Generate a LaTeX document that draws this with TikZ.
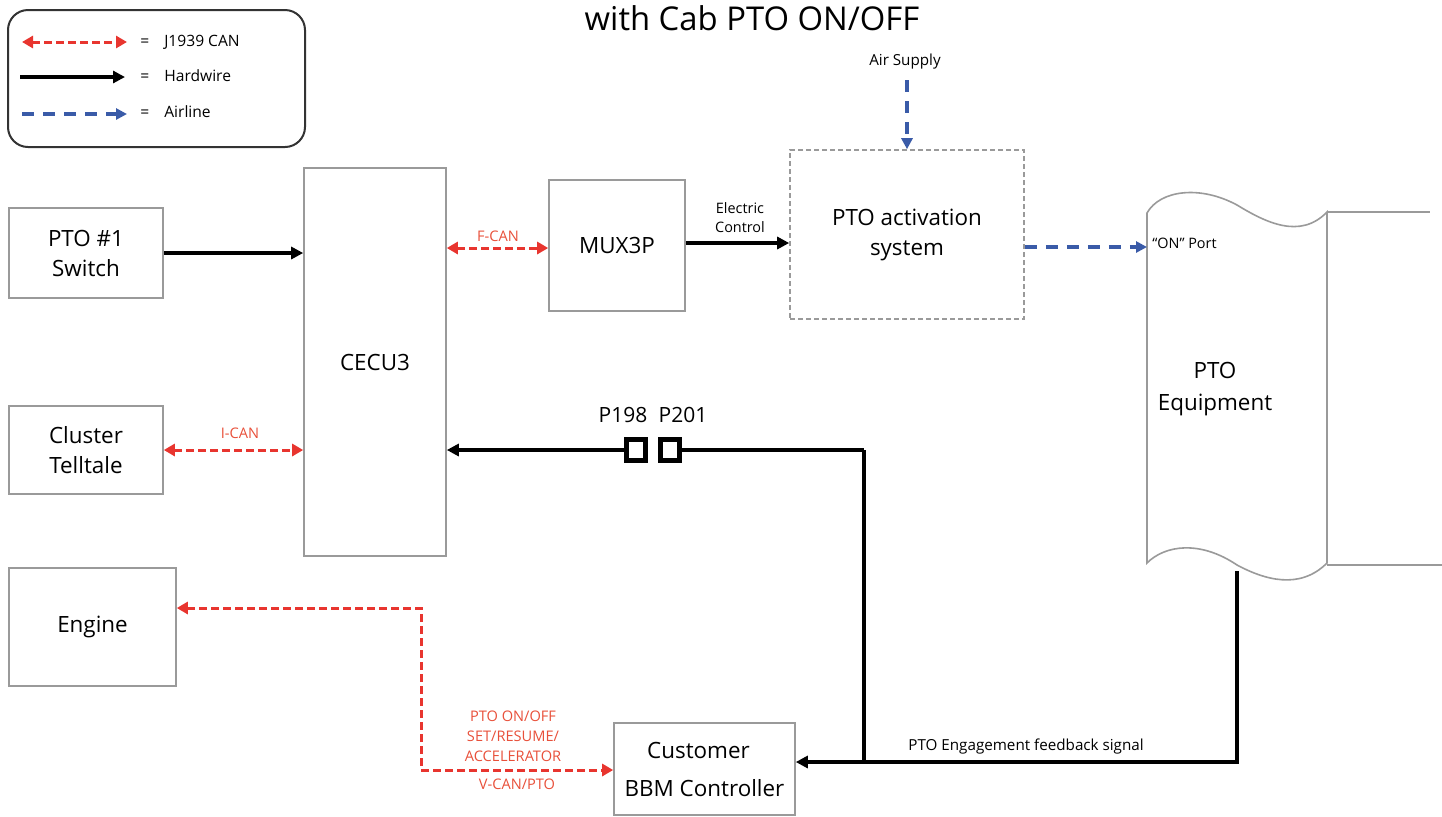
\documentclass[tikz,border=0pt]{standalone}
\usepackage{fontspec}
\setmainfont{Open Sans}
\usetikzlibrary{arrows.meta}
\definecolor{canred}{HTML}{E8352F}
\definecolor{labred}{HTML}{E8503A}
\definecolor{airblue}{HTML}{3A5BA8}
\definecolor{boxgray}{HTML}{9A9A9A}
\begin{document}
\begin{tikzpicture}[x=0.5pt,y=-0.5pt,
 box/.style={draw=boxgray,line width=0.8pt,inner sep=0pt,align=center,font=\fontsize{11.2}{15}\selectfont},
 hw/.style={line width=1.7pt,-{Triangle[length=6pt,width=6pt]}},
 wire/.style={line width=1.7pt},
 can/.style={draw=canred,line width=1.5pt,dash pattern=on 4pt off 2pt},
 canboth/.style={can,{Triangle[length=5.5pt,width=6pt]}-{Triangle[length=5.5pt,width=6pt]}},
 air/.style={draw=airblue,line width=1.7pt,dash pattern=on 6pt off 4.5pt,-{Triangle[length=5.5pt,width=5.5pt]}},
 small/.style={inner sep=0pt,align=center,font=\fontsize{7.2}{9.5}\selectfont},
 redlab/.style={inner sep=0pt,text=labred,align=center,font=\fontsize{7.3}{10}\selectfont},
 conn/.style={draw,line width=2.2pt,minimum width=9.5pt,minimum height=10.5pt,inner sep=0pt},
]
\useasboundingbox (0,0) rectangle (1442,816);

% title
\node[inner sep=0pt,anchor=base,font=\fontsize{16.4}{19}\selectfont] (title) at (752,30) {with Cab PTO ON/OFF};

% legend
\draw[line width=1pt,draw=black!80,rounded corners=10pt] (8,10) rectangle (305,147);
\coordinate (l1a) at (22,42);  \coordinate (l1b) at (127,42);
\coordinate (l2a) at (20,77);  \coordinate (l2b) at (125,77);
\coordinate (l3a) at (22,114); \coordinate (l3b) at (127,114);
\draw[canboth] (l1a) -- (l1b);
\draw[hw] (l2a) -- (l2b);
\draw[air] (l3a) -- (l3b);
\node[small,anchor=west,font=\fontsize{7.8}{9.5}\selectfont] (leq1) at (140,42) {=\hspace{7.5pt}J1939 CAN};
\node[small,anchor=west,font=\fontsize{7.8}{9.5}\selectfont] (leq2) at (140,76) {=\hspace{7.5pt}Hardwire};
\node[small,anchor=west,font=\fontsize{7.8}{9.5}\selectfont] (leq3) at (140,112) {=\hspace{7.5pt}Airline};

% boxes
\node[box,minimum width=77pt,minimum height=45pt] (sw) at (86,253) {PTO \#1\\Switch};
\node[box,minimum width=77pt,minimum height=44pt] (cl) at (86,450) {Cluster\\Telltale};
\node[box,minimum width=83.5pt,minimum height=59pt] (eng) at (92.5,627) {Engine};
\node[box,minimum width=71pt,minimum height=194pt] (cecu) at (375,362) {CECU3};
\node[box,minimum width=68pt,minimum height=65.5pt] (mux) at (617,245.5) {MUX3P};
\node[box,dashed,dash pattern=on 2.5pt off 1.5pt,minimum width=117pt,minimum height=84.5pt] (act) at (907,234.5) {PTO activation\\system};
\node[box,minimum width=90.5pt,minimum height=46pt,font=\fontsize{11.2}{19}\selectfont] (bbm) at (704.5,769) {\hspace*{-6pt}Customer\\BBM Controller};

% PTO equipment shape
\draw[boxgray,line width=0.8pt,fill=white]
  (1147,213) .. controls (1160,190) and (1200,185) .. (1237,205)
  .. controls (1265,222) and (1300,240) .. (1327,212)
  -- (1327,563)
  .. controls (1300,590) and (1265,580) .. (1237,565)
  .. controls (1200,540) and (1165,545) .. (1147,563) -- cycle;
\draw[boxgray,line width=0.8pt] (1327,212) -- (1430,212);
\draw[boxgray,line width=0.8pt] (1327,565) -- (1442,565);
\node[inner sep=0pt,align=center,font=\fontsize{11.2}{16}\selectfont] (eq) at (1215,389) {PTO\\Equipment};

% PTO switch -> CECU3
\draw[hw] (sw.east) -- (sw.east -| cecu.west);
% I-CAN
\draw[canboth] (cl.east) -- (cl.east -| cecu.west);
\node[redlab] (ican) at (240,433) {I-CAN};
% F-CAN
\coordinate (fc) at (446,248);
\draw[canboth] (cecu.east |- fc) -- (mux.west |- fc);
\node[redlab] (fcan) at (498,236) {F-CAN};

% MUX -> activation
\coordinate (ecy) at (700,243);
\draw[hw] (mux.east |- ecy) -- (act.west |- ecy);
\node[small] (elec) at (740,218) {Electric\\Control};

% Air supply
\node[small,font=\fontsize{7.6}{9.5}\selectfont] (air) at (905,62) {Air Supply};
\coordinate (airtop) at (907,80);
\draw[air] (airtop) -- (airtop |- act.north);

% activation -> ON port
\coordinate (port) at (1147,247);
\draw[air] (act.east |- port) -- (port);
\node[small,anchor=west] (onport) at (1152,243) {“ON” Port};

% connectors and feedback
\node[conn] (p198) at (636,450) {};
\node[conn] (p201) at (670,450) {};
\node[inner sep=0pt,font=\fontsize{10.5}{12}\selectfont] (p198l) at (623,415) {P198};
\node[inner sep=0pt,font=\fontsize{10.5}{12}\selectfont] (p201l) at (683,415) {P201};
\coordinate (fbtop) at (864,450);
\coordinate (fbbot) at (864,762);
\coordinate (eqb) at (1237,571);
\draw[wire] (fbtop) -- (p201.east);
\draw[hw] (p198.west) -- (p198.west -| cecu.east);
\draw[wire,line join=miter] (fbtop) -- (fbbot);
\draw[hw,line join=miter] (eqb) |- (fbbot) -- (bbm.east |- fbbot);
\node[small,anchor=west,font=\fontsize{7.6}{9}\selectfont] (fbl) at (908,746) {PTO Engagement feedback signal};

% Engine <-> BBM
\coordinate (corner) at (421,608);
\coordinate (bbmin) at (614,770);
\draw[canboth] (eng.east |- corner) -- (corner) |- (bbm.west |- bbmin);
\node[redlab] (vlab) at (513,736) {PTO ON/OFF\\SET/RESUME/\\ACCELERATOR};
\node[redlab] (vcan) at (517,784) {V-CAN/PTO};
\end{tikzpicture}
\end{document}
